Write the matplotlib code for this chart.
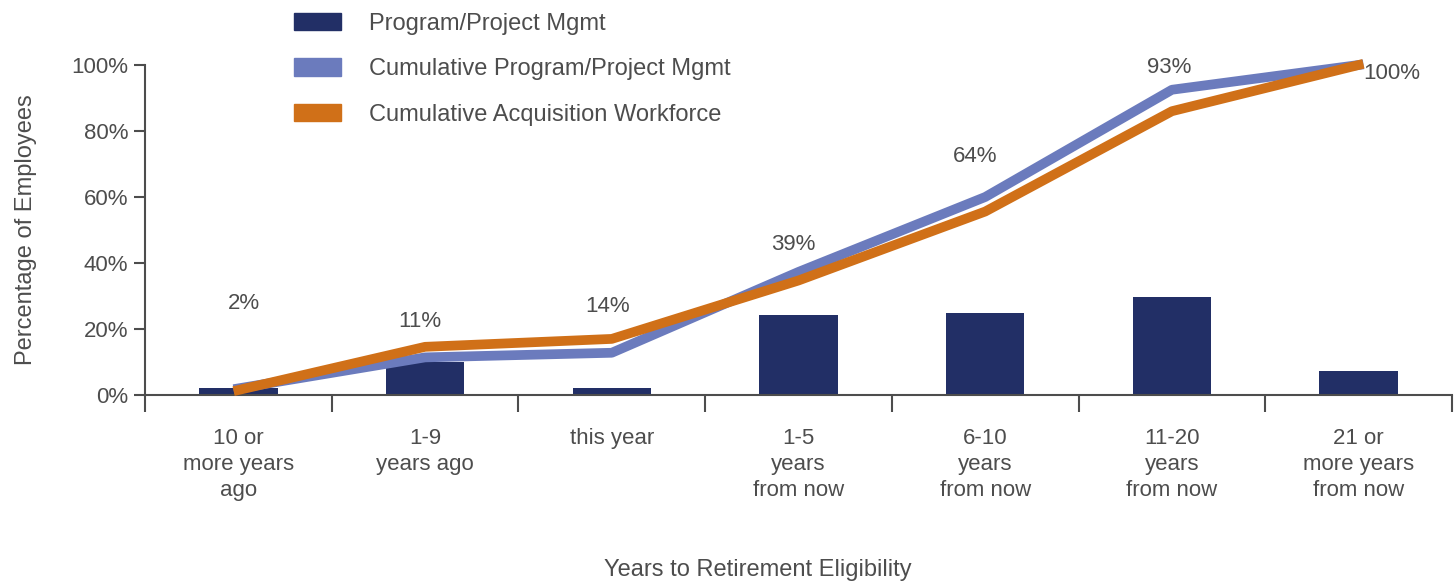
import matplotlib.pyplot as plt
from matplotlib.patches import Patch

plt.rcParams['font.family'] = ['Liberation Sans', 'DejaVu Sans']

categories = ['10 or\nmore years\nago', '1-9\nyears ago', 'this year',
              '1-5\nyears\nfrom now', '6-10\nyears\nfrom now',
              '11-20\nyears\nfrom now', '21 or\nmore years\nfrom now']
program_mgmt = [2, 10, 2, 24.3, 25, 29.6, 7.2]
cum_program = [2, 11.4, 12.8, 37.3, 60, 92.5, 100]
cum_acq = [1.5, 14.6, 17, 34.7, 55.6, 86, 100]
point_labels = ['2%', '11%', '14%', '39%', '64%', '93%', '100%']

navy = '#222f66'
blue = '#6b7bbd'
orange = '#d07018'
gray = '#4d4d4d'

fig = plt.figure(figsize=(14.55, 5.83), dpi=100)
ax = fig.add_axes([145 / 1455, 188 / 583, 1307 / 1455, 330 / 583])

x = list(range(len(categories)))
ax.bar(x, program_mgmt, width=0.42, color=navy, zorder=2)
ax.plot(x, cum_program, color=blue, lw=7, zorder=3, clip_on=False)
ax.plot(x, cum_acq, color=orange, lw=7, zorder=4, clip_on=False)

# label offsets in points (x, y)
offsets = [(4, 61), (-4, 26), (-3, 33), (-4, 20), (-7, 29), (-2, 16), (24, -6)]
for i, lab in enumerate(point_labels):
    ax.annotate(lab, (x[i], cum_program[i]), textcoords='offset points',
                xytext=offsets[i], ha='center', va='center', fontsize=16, color=gray)

ax.set_xlim(-0.5, len(categories) - 0.5)
ax.set_ylim(0, 100)
ax.set_yticks([0, 20, 40, 60, 80, 100])
ax.set_yticklabels(['0%', '20%', '40%', '60%', '80%', '100%'])
ax.set_xticks(x)
ax.set_xticklabels(categories, linespacing=1.3)
ax.set_xticks([i - 0.5 for i in range(len(categories) + 1)], minor=True)

ax.tick_params(axis='x', which='major', length=0, pad=24, labelsize=16, labelcolor=gray)
ax.tick_params(axis='x', which='minor', length=12, width=1.5, color=gray, direction='out')
ax.tick_params(axis='y', length=8, width=1.5, color=gray, labelsize=16, labelcolor=gray, pad=4)

for s in ['top', 'right']:
    ax.spines[s].set_visible(False)
for s in ['left', 'bottom']:
    ax.spines[s].set_color(gray)
    ax.spines[s].set_linewidth(1.5)

ax.set_ylabel('Percentage of Employees', fontsize=17, color=gray, labelpad=25)
ax.set_xlabel('Years to Retirement Eligibility', fontsize=17, color=gray, labelpad=42)
ax.xaxis.label.set_x((758 - 145) / 1307)

handles = [Patch(color=navy), Patch(color=blue), Patch(color=orange)]
names = ['Program/Project Mgmt', 'Cumulative Program/Project Mgmt', 'Cumulative Acquisition Workforce']
fig.legend(handles, names, loc='upper left', bbox_to_anchor=(273 / 1455, 1.015),
           frameon=False, fontsize=17, handlelength=2.0, handleheight=0.75,
           labelspacing=1.0, handletextpad=1.15, labelcolor=gray)

fig.savefig('out.png', dpi=100)
